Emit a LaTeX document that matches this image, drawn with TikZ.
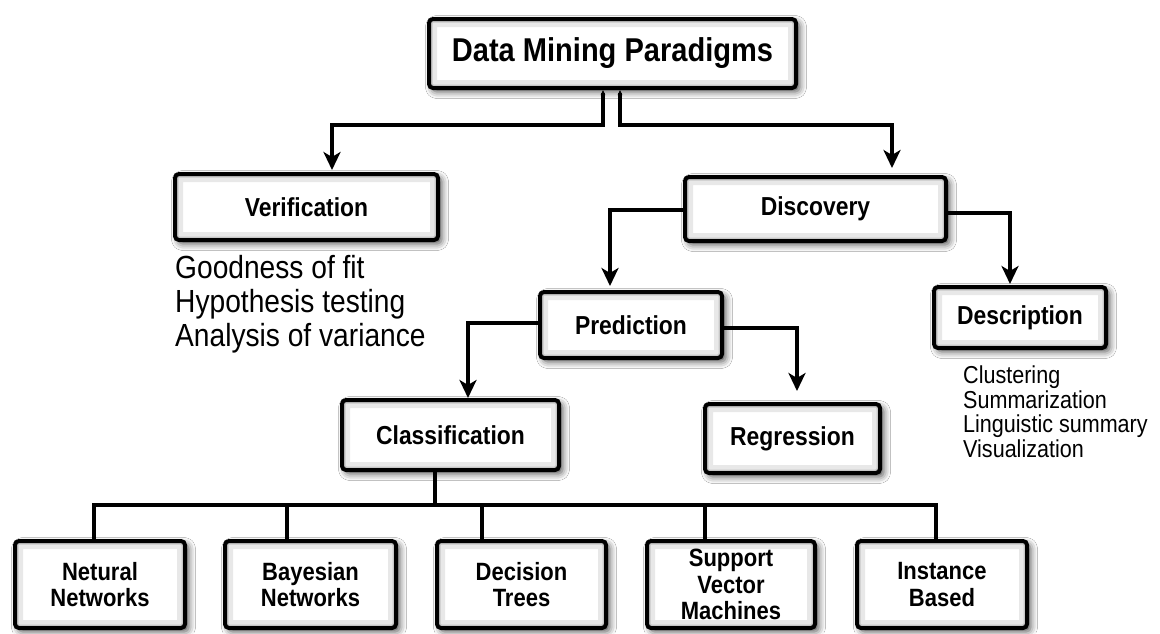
\documentclass[tikz,border=0pt]{standalone}
\usepackage{fontspec}
\setmainfont{Liberation Sans}[FakeStretch=0.88]
\usetikzlibrary{arrows.meta,shadows.blur,calc}
\begin{document}
\begin{tikzpicture}[x=1pt,y=-1pt,
  box/.style={draw=black, line width=4pt, fill=white, rounded corners=4pt, inner sep=0pt, align=center,
    blur shadow={shadow xshift=3.5pt, shadow yshift=-3.5pt, shadow blur radius=7pt, shadow opacity=70},
    path picture={
      \draw[black!9, line width=16pt] (path picture bounding box.south west) rectangle (path picture bounding box.north east);
      \draw[black!22, line width=7pt] (path picture bounding box.south west) rectangle (path picture bounding box.north east);}},
  titlefont/.style={font=\fontsize{33}{36}\selectfont\bfseries},
  lbl/.style={font=\fontsize{26}{29}\selectfont\bfseries},
  leaf/.style={font=\fontsize{25}{26.5}\selectfont\bfseries},
  biglist/.style={font=\fontsize{32}{34}\selectfont, align=left, inner sep=0pt},
  smalllist/.style={font=\fontsize{24.5}{24.5}\selectfont, align=left, inner sep=0pt},
  conn/.style={draw=black, line width=3.5pt},
  arr/.style={conn, -{Stealth[length=18pt,width=17pt,inset=5pt]}},
]
\fill[white] (0,0) rectangle (1160,633);
\useasboundingbox (0,0) rectangle (1160,633);
\clip (0,0) rectangle (1160,633);

% boxes
\node[box, titlefont, minimum width=367pt, minimum height=69pt] (top) at (612.5,53.5) {Data Mining Paradigms};
\node[box, lbl, minimum width=263pt, minimum height=66pt] (ver) at (306.5,207) {Verification};
\node[box, lbl, minimum width=261pt, minimum height=64pt] (dis) at (815.5,209) {Discovery};
\node[box, lbl, minimum width=182pt, minimum height=66pt] (pred) at (631,325) {Prediction};
\node[box, lbl, minimum width=172pt, minimum height=61pt] (desc) at (1020,317.5) {Description};
\node[box, lbl, minimum width=217pt, minimum height=70pt] (cls) at (450.5,435) {Classification};
\node[box, lbl, minimum width=175pt, minimum height=69pt] (reg) at (792.5,438.5) {Regression};

\node[box, leaf, minimum width=170pt, minimum height=87pt] (n1) at (100,584.5) {Netural\\Networks};
\node[box, leaf, minimum width=171pt, minimum height=87pt] (n2) at (310.5,584.5) {Bayesian\\Networks};
\node[box, leaf, minimum width=169pt, minimum height=87pt] (n3) at (521.5,584.5) {Decision\\Trees};
\node[box, leaf, minimum width=168pt, minimum height=87pt] (n4) at (731,584.5) {Support\\Vector\\Machines};
\node[box, leaf, minimum width=170pt, minimum height=87pt] (n5) at (942,584.5) {Instance\\Based};

% free texts
\node[biglist, anchor=north west] (gof) at (175,255) {Goodness of fit\\Hypothesis testing\\Analysis of variance};
\node[smalllist, anchor=north west] (dlist) at (963,366) {Clustering\\Summarization\\Linguistic summary\\Visualization};

% connectors
\coordinate (tl) at (603,125);
\coordinate (tr) at (620,125);
\draw[conn, {Stealth[length=5pt,width=4.5pt]}-{Stealth[length=18pt,width=17pt,inset=5pt]}, shorten >=2pt]
  (top.south -| tl) -- (tl) -| (ver.north -| 332,0);
\draw[conn, {Stealth[length=5pt,width=4.5pt]}-{Stealth[length=18pt,width=17pt,inset=5pt]}, shorten >=7pt]
  (top.south -| tr) -- (tr) -| (dis.north -| 892,0);
\draw[arr, shorten >=4pt] (dis.west |- 0,210) -| (pred.north -| 610,0);
\draw[arr, shorten >=1pt] (dis.east |- 0,213) -| (desc.north -| 1010,0);
\draw[arr] (pred.west |- 0,323) -| (cls.north -| 468,0);
\draw[arr, shorten >=11pt] (pred.east |- 0,328) -| (reg.north -| 797,0);

% classification bus
\coordinate (bus) at (435,505);
\draw[conn] (cls.south -| bus) -- (bus);
\draw[conn] (n1.north -| 94,0) -- (94,505) -- (936,505) -- (n5.north -| 936,0);
\draw[conn] (n2.north -| 287,0) -- (287,505);
\draw[conn] (n3.north -| 482,0) -- (482,505);
\draw[conn] (n4.north -| 705,0) -- (705,505);
\end{tikzpicture}
\end{document}
